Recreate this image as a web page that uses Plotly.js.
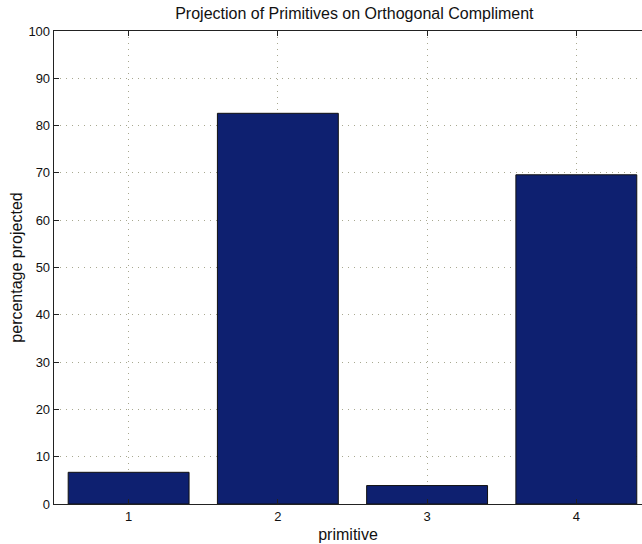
<!DOCTYPE html>
<html><head><meta charset="utf-8">
<script src="https://cdn.plot.ly/plotly-3.0.1.min.js"></script>
<style>html,body{margin:0;padding:0;background:#fff;}#chart{width:642px;height:544px;}</style>
</head><body><div id="chart"></div>
<script>
var categories = [1, 2, 3, 4];
var percentProjected = [6.7, 82.6, 3.9, 69.6];
var yTicks = [0, 10, 20, 30, 40, 50, 60, 70, 80, 90, 100];
var xTickLabels = ['1', '2', '3', '4'];

var trace = {
  type: 'bar',
  x: categories,
  y: percentProjected,
  width: 0.81,
  marker: {color: '#0e2070', line: {color: '#111', width: 1}},
  hoverinfo: 'skip'
};
var font = {family: 'Liberation Sans, Arial, sans-serif', color: '#111'};
var layout = {
  width: 642, height: 544,
  margin: {l: 54, r: 0, t: 31, b: 40},
  paper_bgcolor: '#fff', plot_bgcolor: '#fff',
  font: font,
  showlegend: false,
  title: {text: 'Projection of Primitives on Orthogonal Compliment', font: {family: font.family, size: 16, color: '#111'}, xref: 'container', x: 0.552, xanchor: 'center', y: 0.976, yanchor: 'middle'},
  xaxis: {
    range: [0.5, 4.44],
    tickvals: categories, ticktext: xTickLabels,
    ticks: 'inside', ticklen: 5, tickcolor: '#222', tickwidth: 1,
    showline: true, linecolor: '#222', linewidth: 1.3, mirror: 'ticks',
    showgrid: true, gridcolor: '#a8a890', griddash: '1px,5px', gridwidth: 1,
    zeroline: false,
    tickfont: {family: font.family, size: 13, color: '#111'},
    title: {text: 'primitive', font: {family: font.family, size: 16, color: '#111'}, standoff: 6}
  },
  yaxis: {
    range: [0, 100],
    tickvals: yTicks,
    ticks: 'inside', ticklen: 5, tickcolor: '#222', tickwidth: 1,
    showline: true, linecolor: '#222', linewidth: 1.3, mirror: false,
    showgrid: true, gridcolor: '#a8a890', griddash: '1px,5px', gridwidth: 1,
    zeroline: false,
    tickfont: {family: font.family, size: 13, color: '#111'},
    title: {text: 'percentage projected', font: {family: font.family, size: 16, color: '#111'}, standoff: 1}
  }
};
Plotly.newPlot('chart', [trace], layout, {displayModeBar: false, staticPlot: true});
</script></body></html>
